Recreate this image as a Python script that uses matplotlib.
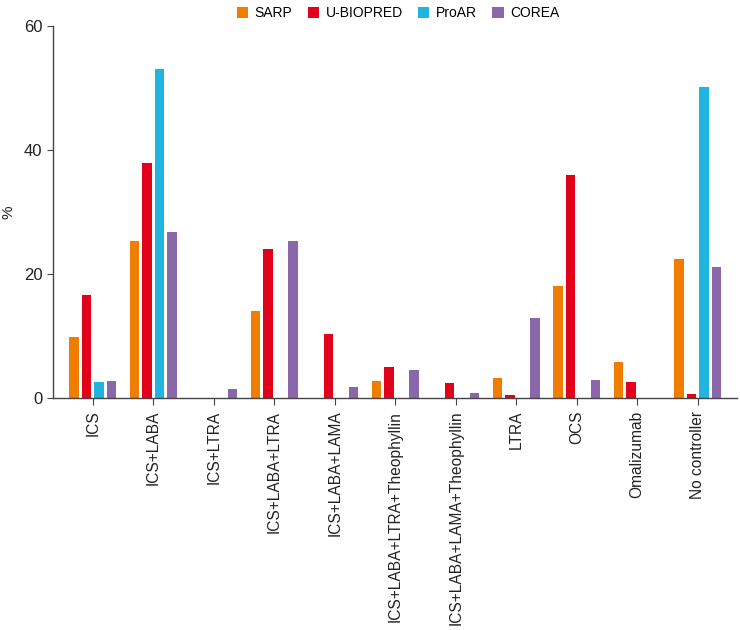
import numpy as np
import matplotlib
matplotlib.use("Agg")
import matplotlib.pyplot as plt
from matplotlib.patches import Patch

categories = ["ICS", "ICS+LABA", "ICS+LTRA", "ICS+LABA+LTRA", "ICS+LABA+LAMA",
              "ICS+LABA+LTRA+Theophyllin", "ICS+LABA+LAMA+Theophyllin",
              "LTRA", "OCS", "Omalizumab", "No controller"]

sarp = [9.8, 25.4, 0, 14.0, 0, 2.7, 0, 3.2, 18.1, 5.9, 22.4]
ubiopred = [16.7, 37.9, 0, 24.0, 10.3, 5.1, 2.4, 0.5, 36.0, 2.6, 0.6]
proar = [2.6, 53.0, 0, 0, 0, 0, 0, 0, 0, 0, 50.2]
corea = [2.7, 26.8, 1.5, 25.3, 1.8, 4.5, 0.9, 12.9, 2.9, 0, 21.2]

series_names = ["SARP", "U-BIOPRED", "ProAR", "COREA"]
series = [sarp, ubiopred, proar, corea]
colors = ["#F07C00", "#E2001A", "#1FB5DE", "#8A67A8"]

plt.rcParams['font.family'] = ['Liberation Sans', 'DejaVu Sans']

fig = plt.figure(figsize=(7.4, 6.3), dpi=100)
ax = fig.add_axes([0.0716, 0.368, 0.925, 0.591])

x = np.arange(len(categories))
step = 0.207
width = 0.157
for i, (vals, col) in enumerate(zip(series, colors)):
    ax.bar(x + (i - 1.5) * step, vals, width=width, color=col, edgecolor='none')

ax.set_xlim(-0.66, 10.66)
ax.set_ylim(0, 60)
ax.set_yticks([0, 20, 40, 60])
ax.set_xticks(x)
ax.set_xticklabels(categories, rotation=90, fontsize=11.2, color="#222222")
ax.tick_params(axis='y', labelsize=12, length=4, color="#444444", labelcolor="#222222")
ax.tick_params(axis='x', length=5, pad=4, color="#444444")
for s in ["top", "right"]:
    ax.spines[s].set_visible(False)
for s in ["left", "bottom"]:
    ax.spines[s].set_color("#444444")
    ax.spines[s].set_linewidth(1.0)

fig.text(0.012, 0.663, "%", rotation=90, fontsize=11, va="center", ha="center", color="#222222")

handles = [Patch(facecolor=c, edgecolor='none') for c in colors]
fig.legend(handles, series_names, loc="upper center", bbox_to_anchor=(0.538, 1.01),
           ncol=4, frameon=False, fontsize=10,
           handlelength=0.8, handleheight=0.8, handletextpad=0.5, columnspacing=1.1)

fig.savefig("out.png", dpi=100)
